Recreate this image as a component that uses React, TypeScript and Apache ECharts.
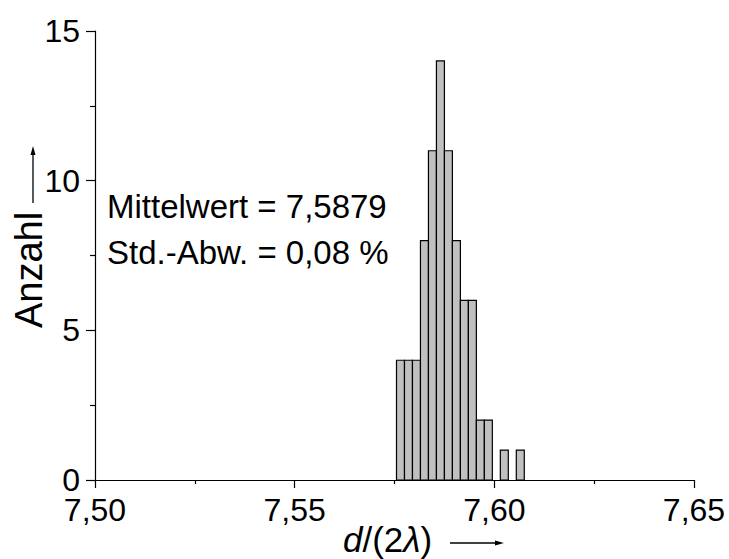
import React, { useEffect, useRef } from "react";
import * as echarts from "echarts";

const binLeft = [7.5755, 7.5775, 7.5795, 7.5815, 7.5835, 7.5855, 7.5875, 7.5895, 7.5915, 7.5935, 7.5955, 7.5975, 7.5995, 7.6015, 7.6035, 7.6055];
const binRight = [7.5775, 7.5795, 7.5815, 7.5835, 7.5855, 7.5875, 7.5895, 7.5915, 7.5935, 7.5955, 7.5975, 7.5995, 7.6015, 7.6035, 7.6055, 7.6075];
const counts = [4, 4, 4, 8, 11, 14, 11, 8, 6, 6, 2, 2, 0, 1, 0, 1];
const statLines = ["Mittelwert = 7,5879", "Std.-Abw. = 0,08 %"];

const FONT = "Liberation Sans, Arial, sans-serif";

export default function App() {
  const ref = useRef<HTMLDivElement>(null);
  useEffect(() => {
    if (!ref.current) return;
    const chart = echarts.init(ref.current, null, { renderer: "svg" });
    const data = counts.map((c, i) => [binLeft[i], binRight[i], c]).filter((d) => d[2] > 0);
    chart.setOption({
      animation: false,
      backgroundColor: "#ffffff",
      grid: { left: 95, right: 35, top: 31, bottom: 79 },
      xAxis: {
        type: "value",
        min: 7.5,
        max: 7.65,
        interval: 0.05,
        axisLine: { show: true, onZero: false, lineStyle: { color: "#000", width: 1.2 } },
        axisTick: { show: true, length: 8, lineStyle: { color: "#000", width: 1.2 } },
        minorTick: { show: true, splitNumber: 2, length: 4, lineStyle: { color: "#000", width: 1.2 } },
        splitLine: { show: false },
        axisLabel: {
          color: "#000",
          fontSize: 32,
          lineHeight: 24,
          fontFamily: FONT,
          margin: 18,
          formatter: (v: number) => v.toFixed(2).replace(".", ","),
        },
      },
      yAxis: {
        type: "value",
        min: 0,
        max: 15,
        interval: 5,
        axisLine: { show: true, lineStyle: { color: "#000", width: 1.2 } },
        axisTick: { show: true, length: 9, lineStyle: { color: "#000", width: 1.2 } },
        minorTick: { show: true, splitNumber: 2, length: 5, lineStyle: { color: "#000", width: 1.2 } },
        splitLine: { show: false },
        axisLabel: { color: "#000", fontSize: 32, lineHeight: 24, fontFamily: FONT, margin: 15 },
      },
      series: [
        {
          type: "custom",
          data,
          encode: { x: [0, 1], y: 2 },
          renderItem: (params: any, api: any) => {
            const p0 = api.coord([api.value(0), api.value(2)]);
            const p1 = api.coord([api.value(1), 0]);
            return {
              type: "rect",
              shape: { x: p0[0], y: p0[1], width: p1[0] - p0[0], height: p1[1] - p0[1] },
              style: { fill: "#c0c0c0", stroke: "#000", lineWidth: 1.2 },
            };
          },
        },
      ],
      graphic: [
        {
          type: "text",
          x: 107,
          y: 206,
          style: { text: statLines[0], font: `33px ${FONT}`, fill: "#000", verticalAlign: "middle", align: "left" },
        },
        {
          type: "text",
          x: 107,
          y: 252,
          style: { text: statLines[1], font: `33px ${FONT}`, fill: "#000", verticalAlign: "middle", align: "left" },
        },
        {
          type: "text",
          x: 29,
          y: 270,
          rotation: Math.PI / 2,
          style: { text: "Anzahl", font: `38px ${FONT}`, fill: "#000", verticalAlign: "middle", align: "center" },
        },
        {
          type: "line",
          shape: { x1: 33, y1: 203, x2: 33, y2: 152 },
          style: { stroke: "#000", lineWidth: 1.3 },
        },
        {
          type: "polygon",
          shape: { points: [[33, 146], [30.5, 155], [35.5, 155]] },
          style: { fill: "#000" },
        },
        {
          type: "text",
          x: 343,
          y: 539,
          style: {
            text: "{i|d}{n|/(2}{i|λ}{n|)}",
            fill: "#000",
            verticalAlign: "middle",
            align: "left",
            rich: {
              i: { font: `italic 35px ${FONT}`, fill: "#000" },
              n: { font: `35px ${FONT}`, fill: "#000" },
            },
          },
        },
        {
          type: "line",
          shape: { x1: 450, y1: 543, x2: 497, y2: 543 },
          style: { stroke: "#000", lineWidth: 1.3 },
        },
        {
          type: "polygon",
          shape: { points: [[504, 543], [495, 540.5], [495, 545.5]] },
          style: { fill: "#000" },
        },
      ],
    });
    return () => chart.dispose();
  }, []);
  return <div ref={ref} style={{ width: 729, height: 559, position: "absolute", left: 0, top: 0 }} />;
}
